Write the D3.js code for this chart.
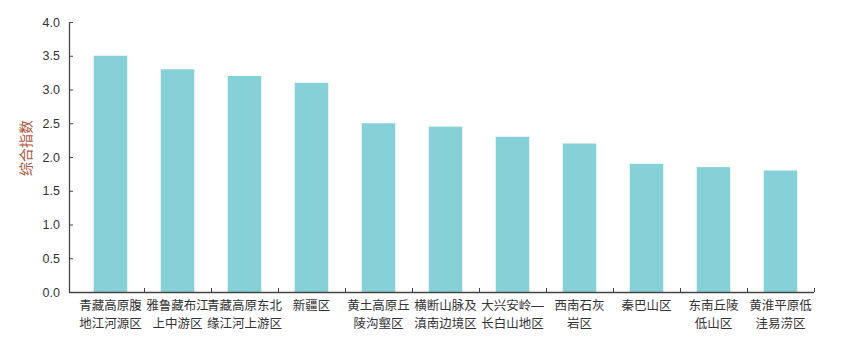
<!DOCTYPE html>
<html>
<head>
<meta charset="utf-8">
<script src="https://cdn.jsdelivr.net/npm/d3@7"></script>
<style>
  body { margin: 0; background: #fff; }
  svg text { font-family: "Liberation Sans", "Noto Sans CJK SC", sans-serif; fill: #333; }
</style>
</head>
<body>
<svg></svg>
<script>
const svgWidth = 843;
const svgHeight = 343;

// categories, two lines each
const regions = [
    ["青藏高原腹", "地江河源区"],
    ["雅鲁藏布江", "上中游区"],
    ["青藏高原东北", "缘江河上游区"],
    ["新疆区"],
    ["黄土高原丘", "陵沟壑区"],
    ["横断山脉及", "滇南边境区"],
    ["大兴安岭—", "长白山地区"],
    ["西南石灰", "岩区"],
    ["秦巴山区"],
    ["东南丘陵", "低山区"],
    ["黄淮平原低", "洼易涝区"]
];
const scores = [3.5, 3.3, 3.2, 3.1, 2.5, 2.45, 2.3, 2.2, 1.9, 1.85, 1.8];
const yTicks = [0, 0.5, 1, 1.5, 2, 2.5, 3, 3.5, 4];
const yTitle = "综合指数";

const svg = d3.select("svg")
    .attr("width", svgWidth)
    .attr("height", svgHeight);

const axisLeft = 69;
const bandLeft = 77, bandRight = 814;
const plotTop = 22, plotBottom = 292;

const names = regions.map(d => d.join(""));

const x = d3.scaleBand()
    .domain(names)
    .range([bandLeft, bandRight])
    .paddingInner(0.5)
    .paddingOuter(0.25);

const y = d3.scaleLinear()
    .domain([0, 4])
    .range([plotBottom, plotTop]);

// bars
svg.append("g")
    .selectAll("rect")
    .data(scores)
    .enter().append("rect")
    .attr("x", (d, i) => x(names[i]))
    .attr("y", d => y(d))
    .attr("width", x.bandwidth())
    .attr("height", d => y(0) - y(d))
    .attr("fill", "#86d1d8");

// y axis, ticks pointing inward
const yAxis = svg.append("g")
    .attr("transform", "translate(" + axisLeft + ",0)")
    .call(d3.axisLeft(y).tickValues(yTicks).tickFormat(d3.format(".1f"))
        .tickSizeInner(-4).tickSizeOuter(0).tickPadding(9));
yAxis.select(".domain").attr("stroke", "#444").attr("stroke-width", 1.3);
yAxis.selectAll(".tick line").attr("stroke", "#444");
yAxis.selectAll(".tick text").style("font-size", "12.5px").attr("fill", "#333");

// x axis line and boundary ticks
const step = x.step();
const boundaries = names.map(d => x(d) + x.bandwidth() / 2 + step / 2);

svg.append("line")
    .attr("x1", axisLeft).attr("x2", bandRight)
    .attr("y1", plotBottom + 0.5).attr("y2", plotBottom + 0.5)
    .attr("stroke", "#444").attr("stroke-width", 1.3);

svg.append("g")
    .selectAll("line")
    .data(boundaries)
    .enter().append("line")
    .attr("x1", d => Math.round(d) + 0.5).attr("x2", d => Math.round(d) + 0.5)
    .attr("y1", plotBottom).attr("y2", plotBottom - 4)
    .attr("stroke", "#444");

// category labels
const lbl = svg.append("g")
    .selectAll("text")
    .data(regions)
    .enter().append("text")
    .attr("text-anchor", "middle")
    .style("font-size", "12.5px")
    .attr("transform", (d, i) => "translate(" + (x(names[i]) + x.bandwidth() / 2) + "," + 310 + ")");

lbl.selectAll("tspan")
    .data(d => d)
    .enter().append("tspan")
    .attr("x", 0)
    .attr("y", (d, i) => i * 18)
    .text(d => d);

// y title
svg.append("text")
    .attr("transform", "translate(31,148) rotate(-90)")
    .attr("text-anchor", "middle")
    .style("font-size", "14px")
    .style("fill", "#b0563c")
    .text(yTitle);
</script>
</body>
</html>
